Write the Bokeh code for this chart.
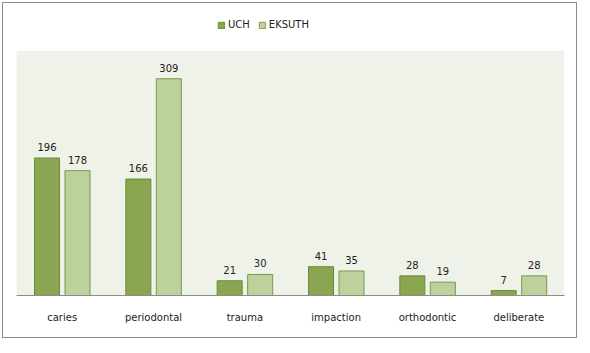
from bokeh.plotting import figure
from bokeh.models import ColumnDataSource, Legend, LegendItem, LabelSet, BoxAnnotation
from bokeh.core.properties import value
from bokeh.transform import dodge
from bokeh.embed import file_html
from bokeh.resources import INLINE

categories = ["caries", "periodontal", "trauma", "impaction", "orthodontic", "deliberate"]
uch = [196, 166, 21, 41, 28, 7]
eksuth = [178, 309, 30, 35, 19, 28]

src = ColumnDataSource(dict(cat=categories, uch=uch, eksuth=eksuth,
                            uch_t=[str(v) for v in uch], eks_t=[str(v) for v in eksuth]))

p = figure(x_range=categories, y_range=(0, 402), width=575, height=336,
           output_backend="svg", toolbar_location=None,
           min_border_left=13, min_border_right=14, min_border_top=10, min_border_bottom=44)
p.styles = {"border": "1px solid #8c8c8c", "margin-left": "2px", "margin-top": "2px"}
p.background_fill_color = "white"
p.outline_line_color = None
p.xgrid.visible = False
p.ygrid.visible = False
p.yaxis.visible = False
p.x_range.range_padding = 0

p.add_layout(BoxAnnotation(bottom=0, top=349, fill_color="#eff2e9", fill_alpha=1,
                           line_color=None, level="underlay"))

r1 = p.vbar(x=dodge("cat", -0.166, range=p.x_range), top="uch", width=0.274, source=src,
            fill_color="#8aa650", line_color="#6b8a3a", line_width=1)
r2 = p.vbar(x=dodge("cat", 0.168, range=p.x_range), top="eksuth", width=0.274, source=src,
            fill_color="#bcd19b", line_color="#7a9a4a", line_width=1)

for col, txt, off in [("uch", "uch_t", -0.166), ("eksuth", "eks_t", 0.168)]:
    p.add_layout(LabelSet(x=dodge("cat", off, range=p.x_range), y=col, text=txt, source=src,
                          text_align="center", text_baseline="bottom", y_offset=7,
                          text_font=value("DejaVu Sans"), text_font_size="10px",
                          text_color="#222222"))

p.xaxis.axis_line_color = "#8c8c8c"
p.xaxis.major_tick_line_color = None
p.xaxis.minor_tick_line_color = None
p.xaxis.major_label_text_font = "DejaVu Sans"
p.xaxis.major_label_text_font_size = "10px"
p.xaxis.major_label_text_color = "#222222"
p.xaxis.major_label_standoff = 10

legend = Legend(items=[LegendItem(label="UCH", renderers=[r1]),
                       LegendItem(label="EKSUTH", renderers=[r2])],
                orientation="horizontal", location=(201, 265),
                background_fill_alpha=0, border_line_color=None,
                label_text_font="DejaVu Sans", label_text_font_size="10px",
                label_text_color="#222222",
                glyph_width=8, glyph_height=8, spacing=8, label_standoff=3,
                padding=0, margin=0)
p.add_layout(legend, "center")

open("out.html", "w").write(file_html(p, INLINE))
